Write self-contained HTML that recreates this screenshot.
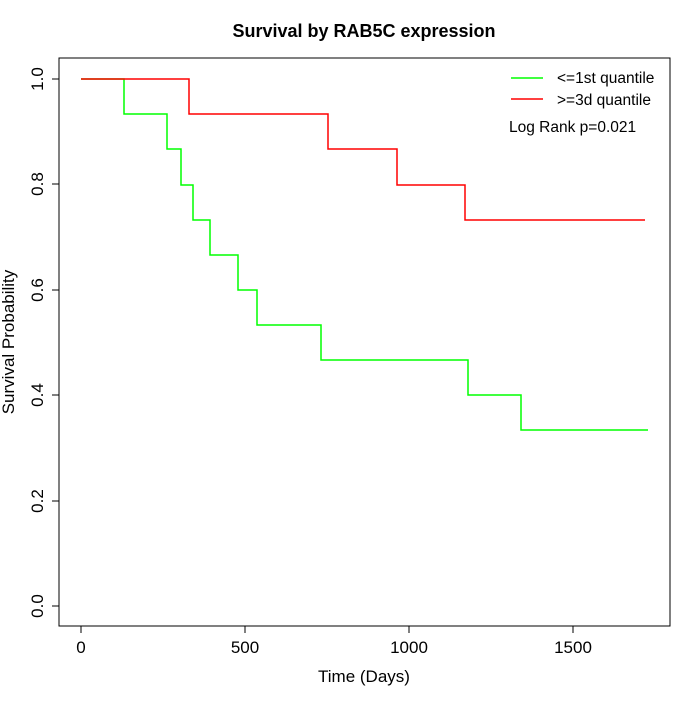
<!DOCTYPE html>
<html><head><meta charset="utf-8"><style>body{margin:0;background:#fff}</style></head><body>
<svg width="700" height="700" xmlns="http://www.w3.org/2000/svg" font-family="Liberation Sans, sans-serif">
<rect width="700" height="700" fill="#fff"/>
<text x="364" y="37" text-anchor="middle" font-size="18" font-weight="bold">Survival by RAB5C expression</text>
<rect x="59" y="58" width="611" height="568" fill="none" stroke="#000" stroke-width="1"/>
<g stroke="#000" stroke-width="1">
<line x1="81" y1="626" x2="81" y2="633"/><line x1="245" y1="626" x2="245" y2="633"/><line x1="409" y1="626" x2="409" y2="633"/><line x1="573" y1="626" x2="573" y2="633"/>
<line x1="52" y1="606" x2="59" y2="606"/><line x1="52" y1="501" x2="59" y2="501"/><line x1="52" y1="395" x2="59" y2="395"/><line x1="52" y1="290" x2="59" y2="290"/><line x1="52" y1="184" x2="59" y2="184"/><line x1="52" y1="79" x2="59" y2="79"/>
</g>
<g font-size="17" text-anchor="middle">
<text x="81" y="653">0</text><text x="245" y="653">500</text><text x="409" y="653">1000</text><text x="573" y="653">1500</text>
<text x="364" y="682">Time (Days)</text>
</g>
<g font-size="17" text-anchor="middle">
<text transform="translate(43,606) rotate(-90)">0.0</text>
<text transform="translate(43,501) rotate(-90)">0.2</text>
<text transform="translate(43,395) rotate(-90)">0.4</text>
<text transform="translate(43,290) rotate(-90)">0.6</text>
<text transform="translate(43,184) rotate(-90)">0.8</text>
<text transform="translate(43,79) rotate(-90)">1.0</text>
<text transform="translate(14,342) rotate(-90)">Survival Probability</text>
</g>
<polyline fill="none" stroke="#00ff00" stroke-width="1.5" points="81,79 124,79 124,114 167,114 167,149 181,149 181,185 193,185 193,220 210,220 210,255 238,255 238,290 257,290 257,325 321,325 321,360 468,360 468,395 521,395 521,430 648,430"/>
<polyline fill="none" stroke="#ff0000" stroke-width="1.5" points="81,79 189,79 189,114 328,114 328,149 397,149 397,185 465,185 465,220 645,220"/>
<line x1="511" y1="78" x2="543" y2="78" stroke="#00ff00" stroke-width="1.5"/>
<line x1="511" y1="99" x2="543" y2="99" stroke="#ff0000" stroke-width="1.5"/>
<g font-size="15.5">
<text x="557" y="83">&lt;=1st quantile</text>
<text x="557" y="105">&gt;=3d quantile</text>
<text x="509" y="132">Log Rank p=0.021</text>
</g>
</svg>
</body></html>
